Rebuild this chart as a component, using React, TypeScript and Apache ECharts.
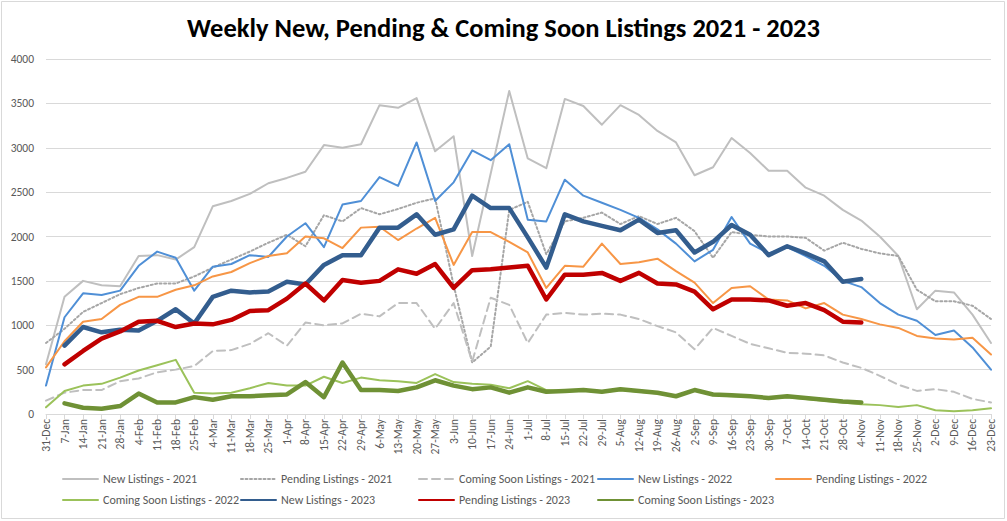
import React, { useEffect, useRef } from "react";
import * as echarts from "echarts";

const categories = [
  "31-Dec","7-Jan","14-Jan","21-Jan","28-Jan","4-Feb","11-Feb","18-Feb","25-Feb","4-Mar","11-Mar","18-Mar","25-Mar",
  "1-Apr","8-Apr","15-Apr","22-Apr","29-Apr","6-May","13-May","20-May","27-May","3-Jun","10-Jun","17-Jun","24-Jun",
  "1-Jul","8-Jul","15-Jul","22-Jul","29-Jul","5-Aug","12-Aug","19-Aug","26-Aug","2-Sep","9-Sep","16-Sep","23-Sep",
  "30-Sep","7-Oct","14-Oct","21-Oct","28-Oct","4-Nov","11-Nov","18-Nov","25-Nov","2-Dec","9-Dec","16-Dec","23-Dec",
];

const new2021 = [560,1320,1500,1450,1440,1780,1790,1740,1880,2340,2400,2480,2600,2660,2730,3030,3000,3040,3480,3450,3560,2960,3130,1780,2710,3640,2880,2770,3550,3470,3260,3480,3370,3190,3060,2690,2780,3110,2940,2740,2740,2550,2460,2300,2180,2000,1780,1180,1390,1370,1120,800];
const pending2021 = [800,960,1150,1250,1350,1420,1470,1470,1550,1650,1740,1830,1930,2020,1890,2240,2170,2320,2250,2310,2380,2430,1450,580,760,2300,2390,1800,2170,2210,2270,2140,2230,2140,2210,2060,1760,2050,2020,2000,2000,1985,1840,1930,1860,1810,1780,1400,1270,1270,1220,1070];
const coming2021 = [150,240,270,270,370,400,470,500,540,710,720,790,910,770,1030,1000,1020,1130,1100,1250,1250,960,1250,590,1310,1230,800,1120,1140,1120,1130,1120,1070,990,920,730,970,880,790,740,690,680,660,580,520,430,330,260,280,250,170,130];
const new2022 = [320,1090,1360,1340,1390,1670,1830,1760,1390,1660,1690,1790,1770,2000,2150,1880,2360,2400,2670,2570,3060,2400,2610,2970,2860,3040,2190,2170,2640,2460,2380,2300,2210,2080,1920,1720,1850,2220,1920,1810,1880,1780,1670,1500,1430,1250,1120,1050,890,940,750,500];
const pending2022 = [525,820,1040,1070,1230,1320,1320,1400,1450,1550,1600,1700,1780,1810,2000,1980,1870,2100,2110,1960,2090,2210,1680,2050,2050,1940,1820,1420,1670,1660,1920,1690,1710,1750,1610,1480,1250,1420,1440,1290,1280,1190,1250,1120,1070,1010,970,880,850,840,860,670];
const coming2022 = [75,260,320,340,410,490,550,610,240,230,240,290,350,320,320,420,350,410,380,370,350,450,360,340,330,290,370,270,255,265,245,270,250,230,200,270,210,200,195,175,190,170,150,130,110,100,78,100,42,30,42,65];
const new2023 = [null,770,980,920,950,940,1050,1180,1020,1320,1390,1370,1380,1490,1460,1680,1790,1790,2100,2100,2250,2020,2080,2460,2320,2320,1990,1650,2250,2170,2120,2070,2190,2040,2070,1820,1940,2130,2020,1790,1890,1810,1720,1490,1520,null,null,null,null,null,null,null];
const pending2023 = [null,560,710,850,930,1040,1050,980,1020,1010,1060,1160,1170,1300,1470,1280,1510,1480,1500,1630,1580,1690,1420,1620,1630,1650,1670,1290,1570,1570,1590,1500,1590,1470,1460,1380,1180,1290,1290,1280,1220,1250,1170,1040,1030,null,null,null,null,null,null,null];
const coming2023 = [null,120,70,60,90,230,130,130,190,160,200,200,210,220,360,190,580,270,270,260,300,380,320,280,300,240,300,250,260,270,250,280,260,240,200,270,220,210,200,180,200,180,160,140,130,null,null,null,null,null,null,null];

const yTicks = [0, 500, 1000, 1500, 2000, 2500, 3000, 3500, 4000];

const FONT = "Carlito, Lato, 'Open Sans', sans-serif";

const seriesDefs = [
  { name: "New Listings - 2021", data: new2021, color: "#bfbfbf", width: 2, type: "solid" as any },
  { name: "Pending Listings - 2021", data: pending2021, color: "#a6a6a6", width: 2, type: [2, 2.5] as any },
  { name: "Coming Soon Listings - 2021", data: coming2021, color: "#bfbfbf", width: 2, type: [8, 5] as any },
  { name: "New Listings - 2022", data: new2022, color: "#4f8fd6", width: 2, type: "solid" as any },
  { name: "Pending Listings - 2022", data: pending2022, color: "#f79646", width: 2, type: "solid" as any },
  { name: "Coming Soon Listings - 2022", data: coming2022, color: "#9bc25a", width: 2, type: "solid" as any },
  { name: "New Listings - 2023", data: new2023, color: "#335d8e", width: 4.5, type: "solid" as any },
  { name: "Pending Listings - 2023", data: pending2023, color: "#c00000", width: 4.5, type: "solid" as any },
  { name: "Coming Soon Listings - 2023", data: coming2023, color: "#6f9135", width: 4.5, type: "solid" as any },
];

const legendPos = [
  [62, 473], [240, 473], [418, 473], [597, 473], [775, 473],
  [62, 494], [240, 494], [418, 494], [597, 494],
];

export default function App() {
  const ref = useRef<HTMLDivElement>(null);
  useEffect(() => {
    if (!ref.current) return;
    const chart = echarts.init(ref.current, undefined, { renderer: "svg" });
    chart.setOption({
      animation: false,
      backgroundColor: "#ffffff",
      title: {
        text: "Weekly New, Pending & Coming Soon Listings 2021 - 2023",
        left: "center",
        top: 9,
        textStyle: { fontSize: 26.5, fontWeight: "bold", color: "#000000", fontFamily: FONT },
      },
      legend: seriesDefs.map((s, i) => ({
        data: [s.name],
        left: legendPos[i][0],
        top: legendPos[i][1],
        padding: 0,
        itemWidth: 35,
        itemHeight: 14,
        itemGap: 4,
        itemStyle: { opacity: 0 },
        textStyle: { fontSize: 12, color: "#595959", fontFamily: FONT },
        selectedMode: false,
      })),
      grid: { left: 46, right: 16, top: 59, bottom: 107, containLabel: false },
      xAxis: {
        type: "category",
        data: categories,
        boundaryGap: false,
        axisLine: { show: true, lineStyle: { color: "#d9d9d9", width: 1 } },
        axisTick: { show: true, length: 5, lineStyle: { color: "#d9d9d9" }, interval: 0 },
        axisLabel: {
          interval: 0,
          rotate: 90,
          margin: 5,
          fontSize: 11.5,
          color: "#595959",
          fontFamily: FONT,
        },
      },
      yAxis: {
        type: "value",
        min: yTicks[0],
        max: yTicks[yTicks.length - 1],
        interval: 500,
        axisLine: { show: false },
        axisTick: { show: false },
        splitLine: { lineStyle: { color: "#d9d9d9", width: 1 } },
        axisLabel: {
          fontSize: 11.5,
          color: "#595959",
          margin: 12,
          fontFamily: FONT,
          formatter: (v: number) => String(v),
        },
      },
      graphic: [
        {
          type: "rect",
          shape: { x: 1.5, y: 1.5, width: 1003, height: 517 },
          style: { fill: "none", stroke: "#d9d9d9", lineWidth: 1 },
          silent: true,
          z: -10,
        },
      ],
      series: seriesDefs.map((s) => ({
        name: s.name,
        type: "line",
        data: s.data,
        symbol: "none",
        showSymbol: false,
        connectNulls: false,
        color: s.color,
        lineStyle: { color: s.color, width: s.width, type: s.type, cap: "round", join: "round" },
        itemStyle: { color: s.color },
      })),
    });
    return () => chart.dispose();
  }, []);
  return (
    <div
      ref={ref}
      style={{ position: "fixed", left: 0, top: 0, width: 1007, height: 521, background: "#fff" }}
    />
  );
}
